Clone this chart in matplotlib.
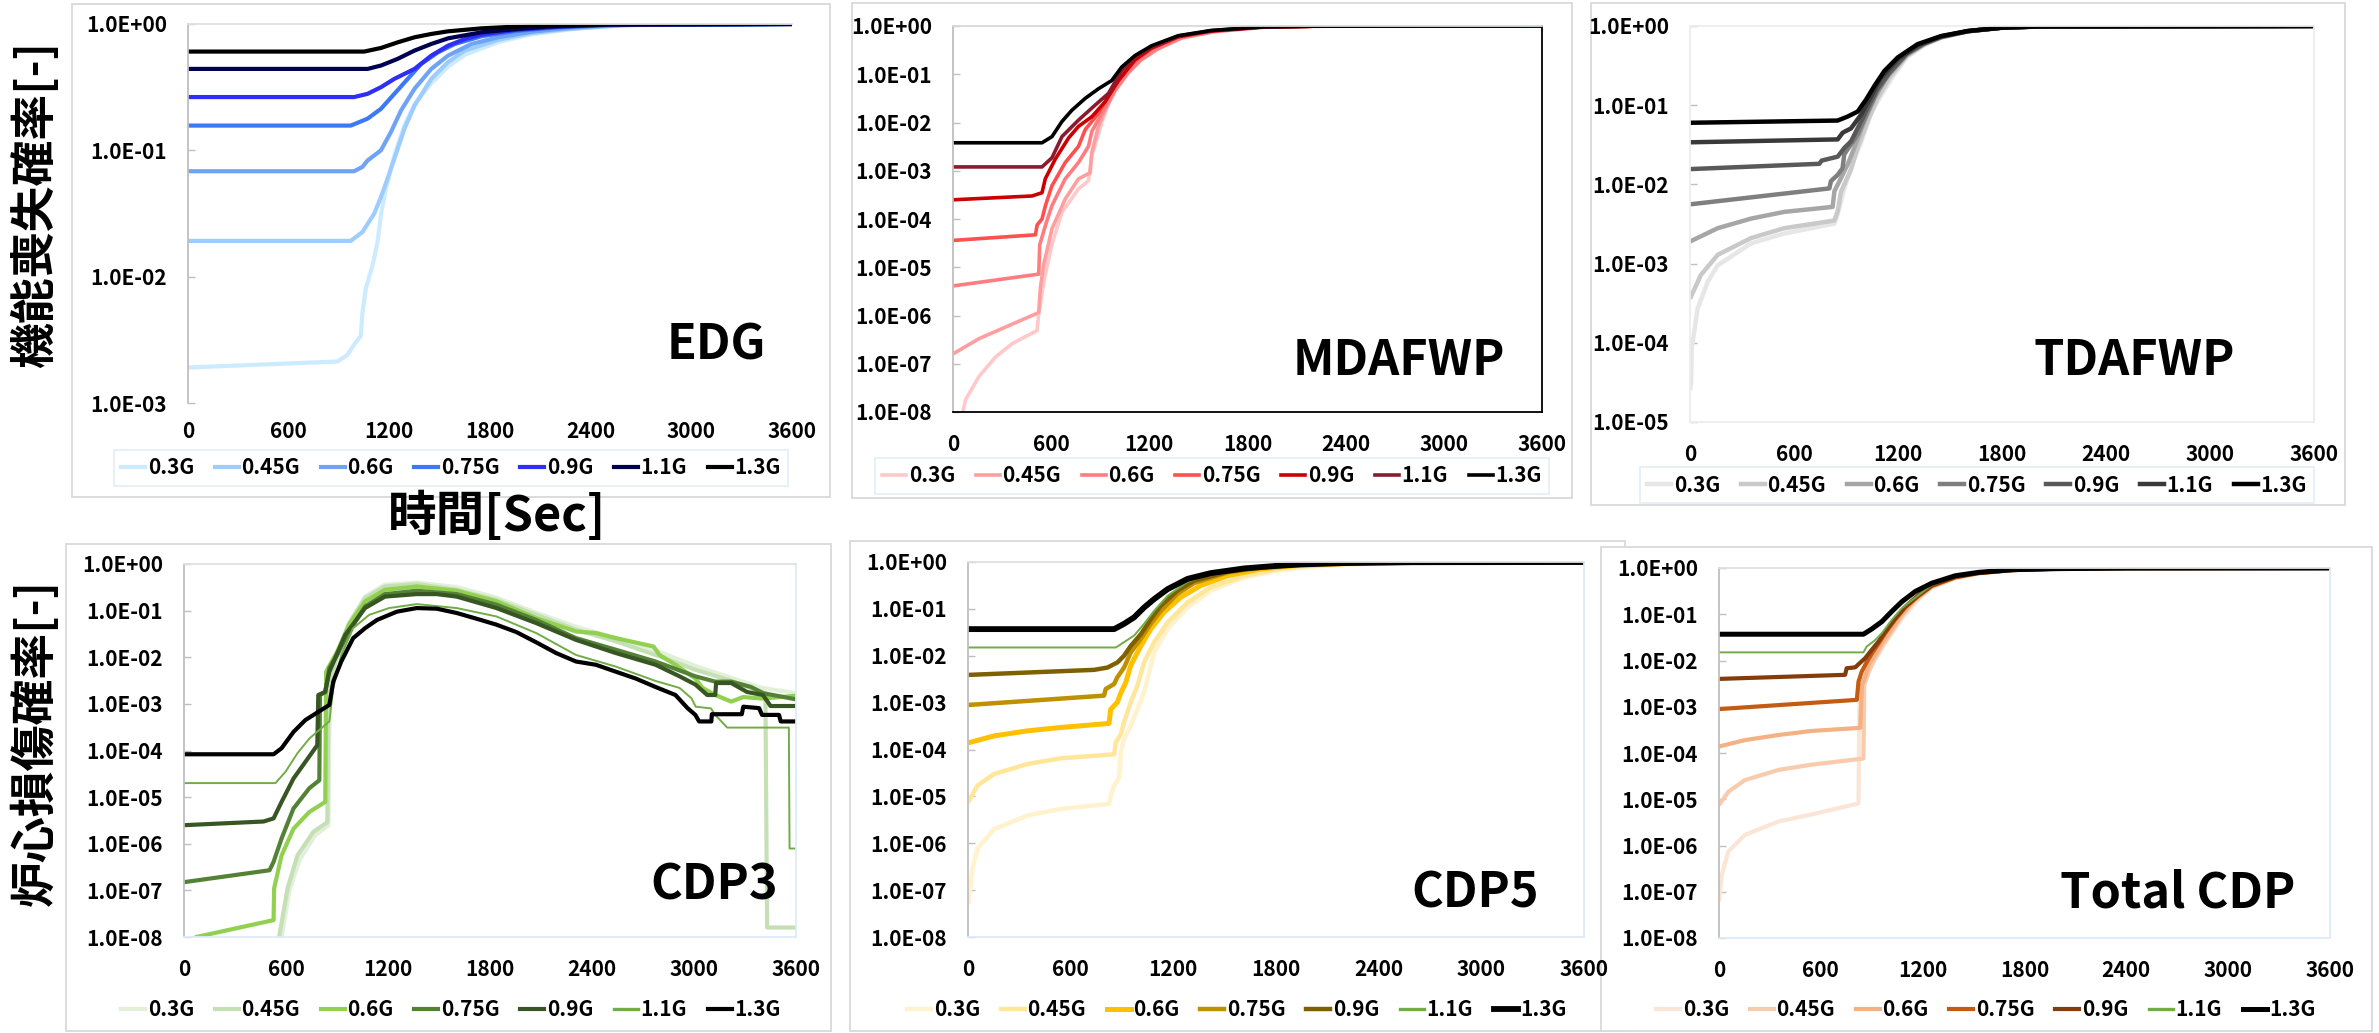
import matplotlib
matplotlib.use("Agg")
import matplotlib.pyplot as plt
from matplotlib.lines import Line2D
from matplotlib.patches import Rectangle
from matplotlib.ticker import FixedLocator

plt.rcParams['font.family'] = ['Noto Sans CJK JP', 'DejaVu Sans']

LEVELS = ['0.3G', '0.45G', '0.6G', '0.75G', '0.9G', '1.1G', '1.3G']
X_TICKS = [0, 600, 1200, 1800, 2400, 3000, 3600]

# ---- EDG : (time [s], probability) ----
edg_03 = [(0, 1.91e-3), (890, 2.13e-3), (950, 2.4e-3), (990, 2.9e-3), (1030, 3.4e-3), (1040, 5.2e-3),
          (1060, 8.1e-3), (1100, 0.0123), (1130, 0.019), (1150, 0.031), (1180, 0.05), (1230, 0.091),
          (1290, 0.158), (1350, 0.23), (1450, 0.34), (1550, 0.46), (1650, 0.57), (1850, 0.72),
          (2050, 0.83), (2350, 0.93), (2700, 0.99), (3600, 1.0)]
edg_045 = [(0, 0.0192), (970, 0.0192), (1040, 0.0226), (1110, 0.0316), (1150, 0.0427), (1190, 0.06),
           (1230, 0.086), (1290, 0.148), (1350, 0.226), (1450, 0.368), (1550, 0.50), (1650, 0.616),
           (1850, 0.75), (2050, 0.85), (2250, 0.91), (2600, 0.98), (3600, 1.0)]
edg_06 = [(0, 0.0683), (990, 0.0683), (1040, 0.074), (1070, 0.083), (1150, 0.1), (1210, 0.14),
          (1270, 0.207), (1350, 0.307), (1450, 0.441), (1550, 0.562), (1690, 0.695), (1850, 0.785),
          (2050, 0.87), (2300, 0.94), (2600, 0.985), (3600, 1.0)]
edg_075 = [(0, 0.157), (970, 0.157), (1070, 0.178), (1150, 0.213), (1230, 0.28), (1310, 0.368),
           (1390, 0.483), (1490, 0.597), (1590, 0.695), (1750, 0.80), (1950, 0.88), (2200, 0.94),
           (2500, 0.98), (3600, 1.0)]
edg_09 = [(0, 0.264), (990, 0.264), (1070, 0.28), (1150, 0.316), (1230, 0.368), (1350, 0.441),
          (1450, 0.562), (1550, 0.674), (1650, 0.76), (1750, 0.824), (1950, 0.897), (2200, 0.95),
          (2500, 0.985), (3600, 1.0)]
edg_11 = [(0, 0.441), (1070, 0.441), (1150, 0.469), (1250, 0.53), (1350, 0.616), (1450, 0.695),
          (1550, 0.77), (1750, 0.86), (1950, 0.91), (2150, 0.953), (2500, 0.99), (3600, 1.0)]
edg_13 = [(0, 0.605), (1050, 0.605), (1150, 0.646), (1250, 0.716), (1350, 0.785), (1450, 0.834),
          (1550, 0.875), (1750, 0.924), (1950, 0.953), (2200, 0.98), (2500, 0.995), (3600, 1.0)]

# ---- MDAFWP ----
mda_03 = [(40, 5e-9), (77, 1.8e-8), (158, 5.4e-8), (260, 1.38e-7), (361, 2.6e-7), (514, 4.9e-7),
          (524, 1.1e-6), (560, 6e-6), (605, 3e-5), (666, 1.38e-4), (767, 4.2e-4), (828, 6.2e-4),
          (848, 2e-3), (910, 0.01), (960, 0.03), (1030, 0.08), (1100, 0.16), (1200, 0.3),
          (1350, 0.52), (1600, 0.76), (1900, 0.94), (2200, 0.99), (3600, 1.0)]
mda_045 = [(0, 1.6e-7), (158, 3.3e-7), (361, 6.6e-7), (524, 1.15e-6), (534, 3.7e-6), (554, 1.12e-5),
           (605, 6.3e-5), (686, 2.6e-4), (767, 6.8e-4), (838, 9.1e-4), (848, 2.35e-3), (889, 8.3e-3),
           (930, 0.018), (990, 0.045), (1070, 0.105), (1150, 0.2), (1250, 0.33), (1400, 0.57),
           (1600, 0.77), (1900, 0.94), (2200, 0.99), (3600, 1.0)]
mda_06 = [(0, 4.1e-6), (524, 7.2e-6), (530, 2.9e-5), (565, 7.4e-5), (605, 1.9e-4), (686, 6.8e-4),
          (767, 1.48e-3), (828, 3.2e-3), (849, 6.6e-3), (910, 0.0155), (991, 0.047), (1070, 0.11),
          (1150, 0.2), (1250, 0.34), (1400, 0.58), (1600, 0.78), (1900, 0.95), (2200, 0.99), (3600, 1.0)]
mda_075 = [(0, 3.6e-5), (504, 4.7e-5), (514, 7.5e-5), (544, 1.0e-4), (565, 1.9e-4), (605, 4.9e-4),
           (686, 1.48e-3), (767, 3.2e-3), (808, 7.1e-3), (889, 0.0155), (970, 0.047), (1050, 0.11),
           (1113, 0.19), (1214, 0.34), (1377, 0.59), (1580, 0.78), (1884, 0.95), (2200, 0.99), (3600, 1.0)]
mda_09 = [(0, 2.5e-4), (483, 3.0e-4), (544, 3.5e-4), (564, 6.8e-4), (625, 1.74e-3), (707, 4.8e-3),
          (767, 8.3e-3), (849, 0.0132), (930, 0.027), (1011, 0.074), (1113, 0.2), (1214, 0.35),
          (1377, 0.6), (1580, 0.79), (1884, 0.95), (2200, 0.99), (3600, 1.0)]
mda_11 = [(0, 1.2e-3), (544, 1.2e-3), (605, 1.86e-3), (666, 5.1e-3), (767, 0.0112), (869, 0.023),
          (950, 0.04), (1031, 0.12), (1113, 0.23), (1214, 0.37), (1377, 0.62), (1580, 0.80),
          (1884, 0.95), (2200, 0.99), (3600, 1.0)]
mda_13 = [(0, 3.8e-3), (544, 3.8e-3), (605, 5.1e-3), (666, 0.0105), (727, 0.018), (808, 0.0316),
          (889, 0.05), (970, 0.074), (1031, 0.141), (1113, 0.245), (1214, 0.39), (1377, 0.63),
          (1580, 0.81), (1884, 0.955), (2200, 0.99), (3600, 1.0)]

# ---- TDAFWP ----
tda_03 = [(0, 2.5e-5), (6, 3.2e-5), (10, 8.5e-5), (44, 2.7e-4), (102, 5.9e-4), (160, 9.5e-4),
          (352, 1.8e-3), (544, 2.4e-3), (833, 3.2e-3), (852, 4.2e-3), (890, 8.9e-3), (948, 0.021),
          (987, 0.034), (1044, 0.079), (1100, 0.13), (1170, 0.23), (1250, 0.4), (1350, 0.57),
          (1450, 0.71), (1602, 0.85), (1794, 0.95), (2000, 0.985), (3600, 1.0)]
tda_045 = [(0, 3.6e-4), (63, 7.2e-4), (160, 1.29e-3), (352, 2.1e-3), (544, 2.8e-3), (833, 3.5e-3),
           (852, 4.6e-3), (871, 8.1e-3), (929, 0.0155), (967, 0.029), (1025, 0.063), (1080, 0.12),
           (1150, 0.22), (1250, 0.42), (1350, 0.58), (1450, 0.72), (1602, 0.855), (1794, 0.95),
           (2000, 0.985), (3600, 1.0)]
tda_06 = [(0, 1.9e-3), (160, 2.8e-3), (352, 3.7e-3), (544, 4.5e-3), (823, 5.2e-3), (833, 8.2e-3),
          (871, 0.012), (910, 0.018), (948, 0.029), (1006, 0.063), (1063, 0.12), (1130, 0.22),
          (1250, 0.43), (1350, 0.59), (1450, 0.72), (1602, 0.855), (1794, 0.95), (2000, 0.985), (3600, 1.0)]
tda_075 = [(0, 5.6e-3), (804, 8.9e-3), (813, 0.011), (852, 0.0132), (880, 0.016), (890, 0.024),
           (967, 0.0427), (1025, 0.083), (1080, 0.15), (1150, 0.25), (1250, 0.44), (1350, 0.6),
           (1450, 0.73), (1602, 0.86), (1794, 0.95), (2000, 0.985), (3600, 1.0)]
tda_09 = [(0, 0.0156), (746, 0.0182), (760, 0.02), (852, 0.0224), (890, 0.0288), (929, 0.035),
          (967, 0.051), (1025, 0.093), (1080, 0.16), (1150, 0.26), (1250, 0.45), (1350, 0.6),
          (1450, 0.73), (1602, 0.86), (1794, 0.95), (2000, 0.985), (3600, 1.0)]
tda_11 = [(0, 0.034), (852, 0.037), (881, 0.045), (929, 0.051), (987, 0.076), (1044, 0.129),
          (1100, 0.22), (1198, 0.38), (1313, 0.57), (1448, 0.74), (1602, 0.86), (1794, 0.95),
          (2000, 0.985), (3600, 1.0)]
tda_13 = [(0, 0.06), (852, 0.064), (910, 0.072), (967, 0.083), (1015, 0.117), (1063, 0.174),
          (1121, 0.27), (1198, 0.40), (1313, 0.59), (1448, 0.746), (1602, 0.865), (1794, 0.95),
          (2000, 0.985), (3600, 1.0)]

# ---- CDP3 ----
cdp3_03 = [(570, 8e-9), (620, 1.0e-7), (680, 4.5e-7), (770, 1.5e-6), (850, 2.5e-6), (858, 2.0e-3),
           (901, 0.0105), (971, 0.05), (1065, 0.2), (1182, 0.36), (1369, 0.40), (1604, 0.32),
           (1838, 0.19), (2072, 0.09), (2306, 0.045), (2540, 0.026), (2774, 0.014), (3008, 6.5e-3),
           (3200, 3.8e-3), (3400, 2.2e-3), (3600, 1.7e-3)]
cdp3_045 = [(555, 8e-9), (609, 1.1e-7), (667, 5.6e-7), (761, 1.8e-6), (843, 2.9e-6), (850, 2.2e-3),
            (901, 0.0112), (971, 0.054), (1065, 0.186), (1182, 0.33), (1369, 0.37), (1604, 0.28),
            (1838, 0.17), (2072, 0.081), (2306, 0.039), (2540, 0.022), (2774, 0.0112), (3008, 5.4e-3),
            (3200, 3.3e-3), (3420, 1.7e-3), (3430, 1.6e-8), (3600, 1.6e-8)]
cdp3_06 = [(0, 7e-9), (72, 1e-8), (527, 2.3e-8), (530, 1.1e-7), (574, 5.6e-7), (644, 2.1e-6),
           (737, 4.8e-6), (831, 7.9e-6), (836, 4.9e-3), (901, 0.0132), (971, 0.05), (1065, 0.158),
           (1182, 0.28), (1369, 0.33), (1604, 0.267), (1838, 0.158), (2072, 0.069), (2306, 0.0357),
           (2423, 0.033), (2540, 0.0257), (2762, 0.017), (2797, 0.0112), (2891, 6.9e-3), (3008, 3.5e-3),
           (3050, 2.2e-3), (3125, 1.55e-3), (3219, 1.12e-3), (3289, 1.4e-3), (3406, 1.3e-3), (3600, 1.5e-3)]
cdp3_075 = [(0, 1.5e-7), (503, 2.7e-7), (527, 4.1e-7), (574, 1.3e-6), (644, 5.7e-6), (737, 1.55e-5),
            (796, 2.3e-5), (800, 1.55e-3), (831, 1.8e-3), (855, 5.9e-3), (901, 0.0112), (971, 0.0357),
            (1065, 0.123), (1182, 0.226), (1369, 0.267), (1604, 0.226), (1838, 0.134), (2072, 0.063),
            (2306, 0.0257), (2540, 0.0145), (2774, 8.1e-3), (3008, 3.9e-3), (3125, 3.0e-3), (3219, 3.0e-3),
            (3336, 2.3e-3), (3406, 1.7e-3), (3600, 1.25e-3)]
cdp3_09 = [(0, 2.5e-6), (468, 3.0e-6), (527, 3.5e-6), (574, 7.9e-6), (644, 2.5e-5), (714, 5.7e-5),
           (784, 1.3e-4), (790, 1.55e-3), (830, 1.8e-3), (855, 4.9e-3), (948, 0.030), (1065, 0.1135),
           (1182, 0.20), (1369, 0.226), (1487, 0.226), (1604, 0.20), (1838, 0.1135), (2072, 0.054),
           (2306, 0.0236), (2540, 0.0123), (2774, 6.9e-3), (2915, 3.9e-3), (3008, 2.6e-3), (3078, 1.55e-3),
           (3125, 1.55e-3), (3130, 2.8e-3), (3219, 2.8e-3), (3312, 1.8e-3), (3406, 1.55e-3),
           (3450, 9e-4), (3600, 9e-4)]
cdp3_11 = [(0, 2.0e-5), (538, 2.0e-5), (597, 3.5e-5), (667, 8.7e-5), (737, 1.8e-4), (808, 3.0e-4),
           (855, 4.2e-4), (878, 2.2e-3), (925, 0.0112), (995, 0.042), (1089, 0.081), (1206, 0.1135),
           (1369, 0.138), (1604, 0.1135), (1838, 0.075), (2072, 0.033), (2306, 0.0112), (2540, 6.3e-3),
           (2774, 3.1e-3), (2915, 2.2e-3), (2985, 1.32e-3), (3010, 8.7e-4), (3100, 8.0e-4),
           (3125, 5.8e-4), (3195, 3.1e-4), (3558, 3.1e-4), (3562, 7.9e-7), (3600, 7.9e-7)]
cdp3_13 = [(0, 8.3e-5), (527, 8.3e-5), (574, 1.12e-4), (644, 2.5e-4), (714, 4.5e-4), (808, 7.4e-4),
           (855, 9.5e-4), (878, 3.0e-3), (925, 8.1e-3), (995, 0.0257), (1065, 0.042), (1135, 0.063),
           (1252, 0.095), (1369, 0.1135), (1487, 0.11), (1604, 0.089), (1721, 0.067), (1838, 0.05),
           (1955, 0.0347), (2072, 0.0209), (2189, 0.0123), (2306, 8.1e-3), (2423, 6.9e-3), (2540, 4.9e-3),
           (2657, 3.5e-3), (2774, 2.3e-3), (2891, 1.55e-3), (2962, 8.1e-4), (3008, 5.8e-4), (3030, 4.2e-4),
           (3102, 4.2e-4), (3105, 6.0e-4), (3281, 6.0e-4), (3290, 8.7e-4), (3383, 8.1e-4), (3400, 5.8e-4),
           (3500, 5.8e-4), (3510, 4.2e-4), (3600, 4.2e-4)]

# ---- CDP5 ----
cdp5_03 = [(3, 5e-8), (6, 6.5e-8), (25, 2.8e-7), (55, 7.6e-7), (152, 2.0e-6), (347, 3.9e-6),
           (542, 5.4e-6), (824, 6.9e-6), (834, 1.02e-5), (854, 1.7e-5), (883, 2.5e-5), (893, 8.7e-5),
           (912, 1.66e-4), (951, 3.2e-4), (990, 7.2e-4), (1029, 1.66e-3), (1050, 3.3e-3), (1088, 0.0117),
           (1166, 0.037), (1283, 0.107), (1419, 0.245), (1614, 0.47), (1809, 0.65), (1945, 0.76),
           (2200, 0.88), (2600, 0.97), (3600, 1.0)]
cdp5_045 = [(0, 7.4e-6), (55, 1.7e-5), (152, 3.0e-5), (347, 4.9e-5), (542, 6.5e-5), (854, 7.9e-5),
            (864, 1.41e-4), (893, 2.1e-4), (912, 3.8e-4), (951, 1.02e-3), (990, 2.3e-3), (1029, 7.2e-3),
            (1088, 0.0195), (1166, 0.051), (1283, 0.138), (1419, 0.29), (1614, 0.51), (1809, 0.71),
            (1945, 0.81), (2200, 0.9), (2600, 0.975), (3600, 1.0)]
cdp5_06 = [(0, 1.38e-4), (152, 1.95e-4), (347, 2.5e-4), (542, 2.95e-4), (824, 3.6e-4), (834, 7.2e-4),
           (873, 1.02e-3), (893, 1.6e-3), (922, 2.7e-3), (951, 6.2e-3), (1010, 0.0162), (1068, 0.037),
           (1146, 0.085), (1244, 0.178), (1361, 0.316), (1517, 0.51), (1711, 0.71), (1900, 0.83),
           (2200, 0.93), (2600, 0.985), (3600, 1.0)]
cdp5_075 = [(0, 8.9e-4), (795, 1.41e-3), (805, 1.95e-3), (854, 2.5e-3), (873, 3.5e-3), (912, 5.6e-3),
            (951, 0.0117), (1010, 0.023), (1068, 0.048), (1127, 0.091), (1224, 0.209), (1322, 0.355),
            (1517, 0.6), (1711, 0.76), (2000, 0.9), (2400, 0.97), (3600, 1.0)]
cdp5_09 = [(0, 3.9e-3), (737, 5.0e-3), (815, 5.6e-3), (873, 7.2e-3), (912, 0.01), (951, 0.0162),
           (1010, 0.0288), (1068, 0.06), (1127, 0.117), (1224, 0.245), (1322, 0.40), (1517, 0.62),
           (1711, 0.78), (2000, 0.9), (2400, 0.97), (3600, 1.0)]
cdp5_11 = [(0, 0.015), (864, 0.015), (912, 0.0195), (971, 0.027), (1029, 0.048), (1088, 0.091),
           (1166, 0.19), (1283, 0.38), (1419, 0.55), (1614, 0.71), (1809, 0.82), (2000, 0.9),
           (2400, 0.97), (3600, 1.0)]
cdp5_13 = [(0, 0.037), (854, 0.037), (912, 0.048), (971, 0.066), (1029, 0.107), (1088, 0.162),
           (1166, 0.263), (1283, 0.437), (1419, 0.58), (1614, 0.73), (1809, 0.83), (1945, 0.89),
           (2200, 0.95), (2600, 0.99), (3600, 1.0)]

# ---- Total CDP ----
tot_03 = [(0, 6e-8), (16, 2.3e-7), (55, 7.4e-7), (153, 1.7e-6), (350, 3.3e-6), (546, 4.7e-6),
          (822, 8.1e-6), (828, 2.95e-3), (861, 4.5e-3), (900, 8.5e-3), (940, 0.0135), (979, 0.024),
          (1038, 0.05), (1097, 0.1), (1170, 0.2), (1254, 0.38), (1392, 0.6), (1529, 0.76),
          (1726, 0.89), (2000, 0.97), (2400, 0.995), (3600, 1.0)]
tot_045 = [(0, 7.5e-6), (55, 1.45e-5), (153, 2.6e-5), (350, 4.3e-5), (546, 5.6e-5), (851, 7.6e-5),
           (856, 2.95e-3), (881, 5.5e-3), (920, 0.0112), (959, 0.02), (1018, 0.042), (1077, 0.09),
           (1150, 0.19), (1254, 0.39), (1392, 0.61), (1529, 0.77), (1726, 0.9), (2000, 0.97),
           (2400, 0.995), (3600, 1.0)]
tot_06 = [(0, 1.38e-4), (153, 1.9e-4), (350, 2.45e-4), (546, 3.0e-4), (832, 3.5e-4), (842, 2.95e-3),
          (861, 4.5e-3), (881, 7.9e-3), (920, 0.0132), (959, 0.0234), (1018, 0.048), (1077, 0.1),
          (1150, 0.2), (1254, 0.4), (1392, 0.62), (1529, 0.77), (1726, 0.9), (2000, 0.97),
          (2400, 0.995), (3600, 1.0)]
tot_075 = [(0, 8.9e-4), (812, 1.41e-3), (822, 3.5e-3), (841, 5.75e-3), (871, 9.3e-3), (900, 0.0141),
           (940, 0.0234), (979, 0.039), (1038, 0.077), (1097, 0.14), (1170, 0.24), (1254, 0.41),
           (1392, 0.63), (1529, 0.78), (1726, 0.9), (2000, 0.97), (2400, 0.995), (3600, 1.0)]
tot_09 = [(0, 4.0e-3), (743, 4.9e-3), (752, 6.8e-3), (802, 7.1e-3), (822, 8.3e-3), (861, 0.0112),
          (900, 0.017), (940, 0.0257), (979, 0.0417), (1038, 0.081), (1097, 0.145), (1170, 0.25),
          (1254, 0.42), (1392, 0.64), (1529, 0.78), (1726, 0.9), (2000, 0.97), (2400, 0.995), (3600, 1.0)]
tot_11 = [(0, 0.015), (851, 0.015), (870, 0.02), (920, 0.0275), (959, 0.039), (1018, 0.076),
          (1077, 0.135), (1136, 0.2), (1254, 0.43), (1392, 0.65), (1529, 0.79), (1726, 0.91),
          (2000, 0.97), (2400, 0.995), (3600, 1.0)]
tot_13 = [(0, 0.037), (851, 0.037), (900, 0.048), (959, 0.069), (1018, 0.115), (1077, 0.186),
          (1156, 0.31), (1254, 0.47), (1392, 0.68), (1529, 0.805), (1726, 0.92), (2000, 0.97),
          (2400, 0.995), (3600, 1.0)]

W, H = 2379, 1033
fig = plt.figure(figsize=(W / 100, H / 100), dpi=100)


def fig_box(l, t, r, b):
    return [l / W, 1 - b / H, (r - l) / W, (b - t) / H]


def fx(x):
    return x / W


def fy(y):
    return 1 - y / H


# panel settings: series, colours, widths, axes box, frame, legend, label
panels = [
    dict(series=[edg_03, edg_045, edg_06, edg_075, edg_09, edg_11, edg_13],
         colors=['#CCEBFF', '#9DCCFF', '#6FA3F5', '#3D78F5', '#2E2EF5', '#000050', '#000000'],
         widths=[3.0] * 7, ax=(188, 24, 792, 403), ymin=-3, frame=(72, 4, 830, 497),
         legend=(451, 468), legend_box=True, name='EDG', name_xy=(716, 359), xpad=13,
         spines=dict(left='#BFBFBF', top='#E0E0E0', right='none', bottom='none')),
    dict(series=[mda_03, mda_045, mda_06, mda_075, mda_09, mda_11, mda_13],
         colors=['#FFC9C9', '#FF9E9E', '#FF7C80', '#FF4F4F', '#CC0000', '#8B1A2E', '#000000'],
         widths=[2.6] * 7, ax=(953, 26, 1542, 412), ymin=-8, frame=(852, 3, 1572, 498),
         legend=(1212, 476), legend_box=True, name='MDAFWP', name_xy=(1399, 375), xpad=16,
         spines=dict(left='#BFBFBF', top='#D9D9D9', right='#000000', bottom='#000000')),
    dict(series=[tda_03, tda_045, tda_06, tda_075, tda_09, tda_11, tda_13],
         colors=['#E7E6E6', '#C9C9C9', '#A6A6A6', '#7F7F7F', '#595959', '#3A3838', '#000000'],
         widths=[3.2] * 7, ax=(1690, 26, 2314, 422), ymin=-5, frame=(1591, 3, 2345, 505),
         legend=(1977, 485), legend_box=True, name='TDAFWP', name_xy=(2134, 375), xpad=16,
         spines=dict(left='#EDEDED', top='#EDEDED', right='#EDEDED', bottom='#EDEDED')),
    dict(series=[cdp3_03, cdp3_045, cdp3_06, cdp3_075, cdp3_09, cdp3_11, cdp3_13],
         colors=['#E2F0D9', '#C5E0B4', '#92D050', '#548235', '#375623', '#70AD47', '#000000'],
         widths=[3.0, 3.0, 3.0, 3.0, 3.0, 1.4, 3.0], ax=(184, 564, 796, 937), ymin=-8,
         frame=(66, 544, 831, 1031), legend=(451, 1010), legend_box=False, name='CDP3',
         name_xy=(714, 900), xpad=16,
         spines=dict(left='#BFBFBF', top='#E0E0E0', right='#DDEBF7', bottom='#DDEBF7')),
    dict(series=[cdp5_03, cdp5_045, cdp5_06, cdp5_075, cdp5_09, cdp5_11, cdp5_13],
         colors=['#FFF2CC', '#FFE699', '#FFC000', '#BF9000', '#7F6000', '#70AD47', '#000000'],
         widths=[3.2, 3.2, 3.6, 3.2, 3.2, 1.4, 4.2], ax=(968, 562, 1584, 937), ymin=-8,
         frame=(850, 541, 1625, 1031), legend=(1237, 1010), legend_box=False, name='CDP5',
         name_xy=(1475, 908), xpad=16,
         spines=dict(left='#BFBFBF', top='#E0E0E0', right='#DDEBF7', bottom='#DDEBF7')),
    dict(series=[tot_03, tot_045, tot_06, tot_075, tot_09, tot_11, tot_13],
         colors=['#FBE5D6', '#F8CBAD', '#F4B183', '#C55A11', '#843C0C', '#70AD47', '#000000'],
         widths=[3.0, 3.0, 3.0, 3.0, 3.0, 1.4, 3.6], ax=(1719, 568, 2330, 938), ymin=-8,
         frame=(1601, 547, 2372, 1031), legend=(1986, 1010), legend_box=False, name='Total CDP',
         name_xy=(2178, 908), xpad=16,
         spines=dict(left='#BFBFBF', top='#E0E0E0', right='#DDEBF7', bottom='#DDEBF7')),
]

tick_font = dict(size=15, weight='bold')

for i, p in enumerate(panels):
    # light chart-area frame behind each panel
    l, t, r, b = p['frame']
    fig.patches.append(Rectangle((fx(l), fy(b)), (r - l) / W, (b - t) / H,
                                 transform=fig.transFigure, facecolor='white',
                                 edgecolor='#D9D9D9', lw=1.3, zorder=-10 + i))

    ax = fig.add_axes(fig_box(*p['ax']))
    ax.set_zorder(i)
    ax.patch.set_alpha(0)
    for pts, c, w in zip(p['series'], p['colors'], p['widths']):
        ax.plot([q[0] for q in pts], [q[1] for q in pts], color=c, lw=w,
                solid_joinstyle='round', solid_capstyle='butt')

    ax.set_yscale('log')
    ax.set_xlim(0, 3600)
    ax.set_ylim(10.0 ** p['ymin'], 1.0)
    ax.xaxis.set_major_locator(FixedLocator(X_TICKS))
    ax.set_xticklabels([str(v) for v in X_TICKS], fontdict=tick_font)
    exps = list(range(p['ymin'], 1))
    ax.yaxis.set_major_locator(FixedLocator([10.0 ** e for e in exps]))
    ax.yaxis.set_minor_locator(FixedLocator([]))
    ax.set_yticklabels([f'1.0E{e:+03d}' for e in exps], fontdict=tick_font)
    ax.tick_params(axis='x', length=0, pad=p['xpad'])
    ax.tick_params(axis='y', direction='in', length=5, width=1, color='#BFBFBF', pad=15)
    for side, col in p['spines'].items():
        ax.spines[side].set_color(col)
        ax.spines[side].set_linewidth(1.3)

    handles = [Line2D([], [], color=c, lw=max(w, 2.4)) for c, w in zip(p['colors'], p['widths'])]
    leg = ax.legend(handles, LEVELS, loc='center', ncol=7,
                    bbox_to_anchor=(fx(p['legend'][0]), fy(p['legend'][1])),
                    bbox_transform=fig.transFigure, prop=dict(size=15, weight='bold'),
                    handlelength=1.15, handletextpad=0.12, columnspacing=1.0,
                    borderpad=0.35, frameon=p['legend_box'], fancybox=False)
    if p['legend_box']:
        leg.get_frame().set_edgecolor('#DDEBF7')
        leg.get_frame().set_linewidth(1.3)

    fig.text(fx(p['name_xy'][0]), fy(p['name_xy'][1]), p['name'], fontsize=35,
             weight='bold', ha='center', va='baseline', zorder=20)

# axis titles shared across the panels
fig.text(fx(35), fy(205), '機能喪失確率[-]', rotation=90, fontsize=33, weight='bold',
         ha='center', va='center')
fig.text(fx(35), fy(743), '炉心損傷確率[-]', rotation=90, fontsize=33, weight='bold',
         ha='center', va='center')
fig.text(fx(497), fy(516), '時間[Sec]', fontsize=35, weight='bold', ha='center', va='center',
         zorder=20)

fig.savefig('out.png', dpi=100, facecolor='white')
